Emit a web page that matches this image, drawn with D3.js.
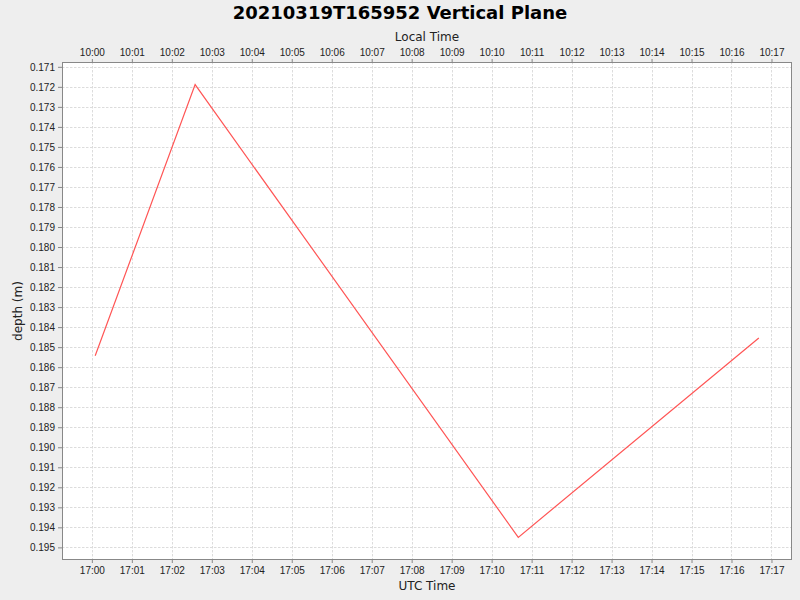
<!DOCTYPE html>
<html lang="en">

<head>
	<meta charset="UTF-8">
	<title>vertical plane</title>
	<script type="text/javascript" src="https://cdn.jsdelivr.net/npm/d3@7/dist/d3.min.js" charset="UTF-8"></script>
	<style>
		body { margin: 0; background: #eeeeee; }
		svg { display: block; font-family: 'DejaVu Sans', sans-serif; }
	</style>
</head>

<body>
	<script type="text/javascript">
	// samples (UTC)
	let times = [
		'2021-03-19T17:00:05Z',
		'2021-03-19T17:02:35Z',
		'2021-03-19T17:10:40Z',
		'2021-03-19T17:16:41Z'
	]
	let depths = [0.18543, 0.17189, 0.19450, 0.18454]
	let title = '20210319T165952 Vertical Plane'
	let localOffsetHours = -7

	let width = 800,
		height = 600
	let margin = { top: 62, right: 8, bottom: 40, left: 62 }

	let data = times.map((t, i) => ({ t: new Date(t), d: depths[i] }))

	let svg = d3.select('body').append('svg')
		.attr('width', width)
		.attr('height', height)

	svg.append('rect')
		.attr('width', width)
		.attr('height', height)
		.attr('fill', '#eeeeee')

	// 5% margin on both axes, like the original chart
	let tExt = d3.extent(data, d => +d.t)
	let tPad = (tExt[1] - tExt[0]) * 0.05
	let dExt = d3.extent(data, d => d.d)
	let dPad = (dExt[1] - dExt[0]) * 0.05

	let x = d3.scaleUtc()
		.domain([new Date(tExt[0] - tPad), new Date(tExt[1] + tPad)])
		.range([margin.left, width - margin.right])

	let y = d3.scaleLinear()
		.domain([dExt[0] - dPad, dExt[1] + dPad])
		.range([margin.top, height - margin.bottom])

	let minuteTicks = d3.utcMinute.range(x.domain()[0], x.domain()[1])
	let depthTicks = d3.range(171, 196).map(v => v / 1000)

	let plotW = width - margin.left - margin.right,
		plotH = height - margin.top - margin.bottom

	svg.append('rect')
		.attr('x', margin.left)
		.attr('y', margin.top)
		.attr('width', plotW)
		.attr('height', plotH)
		.attr('fill', 'white')

	// grid
	let grid = svg.append('g')
		.attr('stroke', '#dcdcdc')
		.attr('stroke-width', 1)
		.attr('stroke-dasharray', '2.5,1.5')
	grid.selectAll('.vx')
		.data(minuteTicks)
		.enter()
		.append('line')
		.attr('x1', d => Math.round(x(d)) + 0.5)
		.attr('x2', d => Math.round(x(d)) + 0.5)
		.attr('y1', margin.top)
		.attr('y2', margin.top + plotH)
	grid.selectAll('.hy')
		.data(depthTicks)
		.enter()
		.append('line')
		.attr('y1', d => Math.round(y(d)) + 0.5)
		.attr('y2', d => Math.round(y(d)) + 0.5)
		.attr('x1', margin.left)
		.attr('x2', margin.left + plotW)

	let line = d3.line()
		.x(d => x(d.t))
		.y(d => y(d.d))

	svg.append('path')
		.attr('d', line(data))
		.attr('stroke', '#ff5555')
		.attr('stroke-width', 1.2)
		.attr('fill', 'none')

	svg.append('rect')
		.attr('x', margin.left + 0.5)
		.attr('y', margin.top + 0.5)
		.attr('width', plotW - 1)
		.attr('height', plotH - 1)
		.attr('fill', 'none')
		.attr('stroke', '#888888')

	let styleAxis = g => {
		g.select('.domain').remove()
		g.selectAll('.tick line').attr('stroke', '#888888')
		g.selectAll('.tick text')
			.attr('fill', '#222222')
			.style('font-size', '10px')
	}

	let utcFmt = d3.utcFormat('%H:%M')
	let localFmt = d => utcFmt(new Date(+d + localOffsetHours * 3600e3))

	svg.append('g')
		.attr('transform', `translate(0,${margin.top + plotH})`)
		.call(d3.axisBottom(x).tickValues(minuteTicks).tickFormat(utcFmt)
			.tickSizeInner(3).tickSizeOuter(0).tickPadding(4))
		.call(styleAxis)

	svg.append('g')
		.attr('transform', `translate(0,${margin.top})`)
		.call(d3.axisTop(x).tickValues(minuteTicks).tickFormat(localFmt)
			.tickSizeInner(3).tickSizeOuter(0).tickPadding(3))
		.call(styleAxis)

	svg.append('g')
		.attr('transform', `translate(${margin.left},0)`)
		.call(d3.axisLeft(y).tickValues(depthTicks).tickFormat(d3.format('.3f'))
			.tickSizeInner(4).tickSizeOuter(0).tickPadding(3))
		.call(styleAxis)

	// titles
	svg.append('text')
		.attr('x', width / 2)
		.attr('y', 19)
		.attr('text-anchor', 'middle')
		.style('font-size', '18px')
		.style('font-weight', 'bold')
		.attr('fill', 'black')
		.text(title)

	svg.append('text')
		.attr('x', margin.left + plotW / 2)
		.attr('y', 41)
		.attr('text-anchor', 'middle')
		.style('font-size', '12px')
		.attr('fill', '#222222')
		.text('Local Time')

	svg.append('text')
		.attr('x', margin.left + plotW / 2)
		.attr('y', 590)
		.attr('text-anchor', 'middle')
		.style('font-size', '12px')
		.attr('fill', '#222222')
		.text('UTC Time')

	svg.append('text')
		.attr('transform', `translate(22,${margin.top + plotH / 2}) rotate(-90)`)
		.attr('text-anchor', 'middle')
		.style('font-size', '12px')
		.attr('fill', '#222222')
		.text('depth (m)')
	</script>
</body>

</html>
